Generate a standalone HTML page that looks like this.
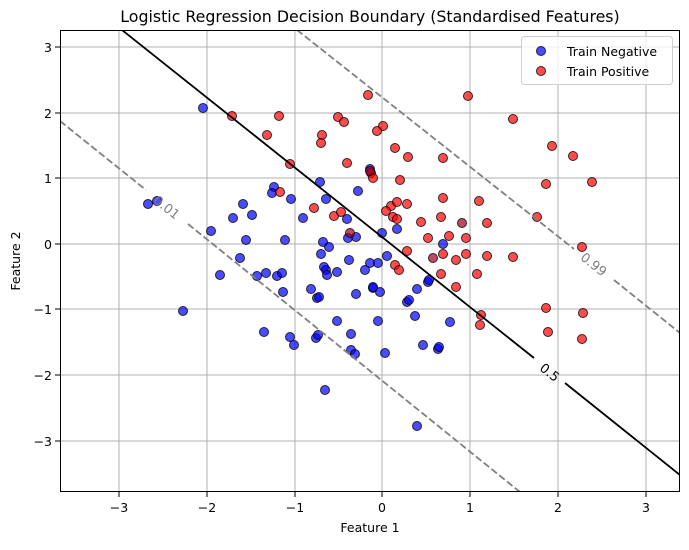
<!DOCTYPE html><html><head><style>body{margin:0;background:#fff}svg text{font-family:"DejaVu Sans","Liberation Sans",sans-serif}</style></head><body>
<svg width="689" height="545" xmlns="http://www.w3.org/2000/svg">
<defs><clipPath id="c"><rect x="60" y="30" width="620" height="462"/></clipPath></defs>
<text x="370" y="22" font-size="15.8" text-anchor="middle">Logistic Regression Decision Boundary (Standardised Features)</text>
<g stroke="#b0b0b0" stroke-width="1">
<line x1="119" y1="30" x2="119" y2="492"/><line x1="207" y1="30" x2="207" y2="492"/><line x1="295" y1="30" x2="295" y2="492"/><line x1="382" y1="30" x2="382" y2="492"/><line x1="470" y1="30" x2="470" y2="492"/><line x1="558" y1="30" x2="558" y2="492"/><line x1="646" y1="30" x2="646" y2="492"/>
<line x1="60" y1="47" x2="680" y2="47"/><line x1="60" y1="113" x2="680" y2="113"/><line x1="60" y1="178" x2="680" y2="178"/><line x1="60" y1="244" x2="680" y2="244"/><line x1="60" y1="309" x2="680" y2="309"/><line x1="60" y1="375" x2="680" y2="375"/><line x1="60" y1="441" x2="680" y2="441"/>
</g>
<g clip-path="url(#c)">
<g stroke="#000" stroke-opacity="0.8" stroke-width="1" fill="#0000ff" fill-opacity="0.7">
<circle cx="203" cy="108" r="4.5"/><circle cx="148" cy="204" r="4.5"/><circle cx="157" cy="201" r="4.5"/><circle cx="243" cy="204" r="4.5"/><circle cx="233" cy="218" r="4.5"/><circle cx="252" cy="215" r="4.5"/><circle cx="211" cy="231" r="4.5"/><circle cx="246" cy="240" r="4.5"/><circle cx="240" cy="258" r="4.5"/><circle cx="220" cy="275" r="4.5"/><circle cx="257" cy="276" r="4.5"/><circle cx="266" cy="273" r="4.5"/><circle cx="277" cy="276" r="4.5"/><circle cx="282" cy="273" r="4.5"/><circle cx="285" cy="240" r="4.5"/><circle cx="291" cy="199" r="4.5"/><circle cx="274" cy="187" r="4.5"/><circle cx="272" cy="193" r="4.5"/><circle cx="303" cy="218" r="4.5"/><circle cx="320" cy="182" r="4.5"/><circle cx="326" cy="199" r="4.5"/><circle cx="358" cy="191" r="4.5"/><circle cx="370" cy="169" r="4.5"/><circle cx="347" cy="219" r="4.5"/><circle cx="348" cy="238" r="4.5"/><circle cx="356" cy="237" r="4.5"/><circle cx="323" cy="242" r="4.5"/><circle cx="329" cy="247" r="4.5"/><circle cx="321" cy="254" r="4.5"/><circle cx="349" cy="260" r="4.5"/><circle cx="324" cy="267" r="4.5"/><circle cx="326" cy="270" r="4.5"/><circle cx="327" cy="275" r="4.5"/><circle cx="337" cy="272" r="4.5"/><circle cx="365" cy="270" r="4.5"/><circle cx="370" cy="263" r="4.5"/><circle cx="378" cy="263" r="4.5"/><circle cx="387" cy="256" r="4.5"/><circle cx="382" cy="233" r="4.5"/><circle cx="397" cy="229" r="4.5"/>
<circle cx="183" cy="311" r="4.5"/><circle cx="264" cy="332" r="4.5"/><circle cx="290" cy="337" r="4.5"/><circle cx="294" cy="345" r="4.5"/><circle cx="316" cy="338" r="4.5"/><circle cx="318" cy="335" r="4.5"/><circle cx="325" cy="390" r="4.5"/><circle cx="417" cy="426" r="4.5"/><circle cx="283" cy="292" r="4.5"/><circle cx="311" cy="289" r="4.5"/><circle cx="317" cy="298" r="4.5"/><circle cx="319" cy="297" r="4.5"/><circle cx="337" cy="321" r="4.5"/><circle cx="351" cy="334" r="4.5"/><circle cx="351" cy="350" r="4.5"/><circle cx="355" cy="354" r="4.5"/><circle cx="356" cy="294" r="4.5"/><circle cx="373" cy="288" r="4.5"/><circle cx="380" cy="292" r="4.5"/><circle cx="378" cy="321" r="4.5"/><circle cx="385" cy="353" r="4.5"/><circle cx="407" cy="302" r="4.5"/><circle cx="409" cy="300" r="4.5"/><circle cx="415" cy="316" r="4.5"/><circle cx="417" cy="289" r="4.5"/><circle cx="428" cy="282" r="4.5"/><circle cx="423" cy="345" r="4.5"/><circle cx="438" cy="349" r="4.5"/><circle cx="439" cy="347" r="4.5"/><circle cx="450" cy="322" r="4.5"/><circle cx="443" cy="244" r="4.5"/><circle cx="429" cy="280" r="4.5"/><circle cx="373" cy="287" r="4.5"/>
</g>
<g stroke="#000" stroke-opacity="0.8" stroke-width="1" fill="#ff0000" fill-opacity="0.7">
<circle cx="232" cy="116" r="4.5"/><circle cx="279" cy="116" r="4.5"/><circle cx="267" cy="135" r="4.5"/><circle cx="290" cy="164" r="4.5"/><circle cx="280" cy="192" r="4.5"/><circle cx="368" cy="95" r="4.5"/><circle cx="468" cy="96" r="4.5"/><circle cx="338" cy="117" r="4.5"/><circle cx="344" cy="122" r="4.5"/><circle cx="383" cy="126" r="4.5"/><circle cx="377" cy="131" r="4.5"/><circle cx="322" cy="135" r="4.5"/><circle cx="321" cy="143" r="4.5"/><circle cx="513" cy="119" r="4.5"/><circle cx="395" cy="148" r="4.5"/><circle cx="408" cy="157" r="4.5"/><circle cx="443" cy="158" r="4.5"/><circle cx="552" cy="146" r="4.5"/><circle cx="573" cy="156" r="4.5"/><circle cx="347" cy="163" r="4.5"/><circle cx="371" cy="173" r="4.5"/><circle cx="373" cy="178" r="4.5"/><circle cx="400" cy="180" r="4.5"/><circle cx="546" cy="184" r="4.5"/><circle cx="592" cy="182" r="4.5"/><circle cx="443" cy="198" r="4.5"/><circle cx="479" cy="201" r="4.5"/><circle cx="314" cy="208" r="4.5"/><circle cx="334" cy="216" r="4.5"/><circle cx="341" cy="212" r="4.5"/><circle cx="391" cy="206" r="4.5"/><circle cx="397" cy="202" r="4.5"/><circle cx="407" cy="204" r="4.5"/><circle cx="386" cy="211" r="4.5"/><circle cx="393" cy="217" r="4.5"/><circle cx="397" cy="219" r="4.5"/><circle cx="441" cy="217" r="4.5"/><circle cx="421" cy="222" r="4.5"/><circle cx="462" cy="223" r="4.5" fill="#a00020"/><circle cx="487" cy="223" r="4.5"/><circle cx="537" cy="217" r="4.5"/><circle cx="350" cy="233" r="4.5" fill="#a00020"/><circle cx="428" cy="238" r="4.5"/><circle cx="449" cy="236" r="4.5"/><circle cx="466" cy="238" r="4.5"/><circle cx="407" cy="251" r="4.5"/><circle cx="443" cy="254" r="4.5"/><circle cx="456" cy="260" r="4.5"/><circle cx="466" cy="254" r="4.5"/><circle cx="487" cy="256" r="4.5"/><circle cx="513" cy="257" r="4.5"/><circle cx="433" cy="258" r="4.5" fill="#a00020"/><circle cx="395" cy="265" r="4.5"/><circle cx="399" cy="270" r="4.5"/><circle cx="441" cy="274" r="4.5"/><circle cx="477" cy="274" r="4.5"/><circle cx="582" cy="247" r="4.5"/><circle cx="456" cy="287" r="4.5"/><circle cx="546" cy="308" r="4.5"/><circle cx="548" cy="332" r="4.5"/><circle cx="583" cy="313" r="4.5"/><circle cx="582" cy="339" r="4.5"/><circle cx="481" cy="315" r="4.5"/><circle cx="480" cy="325" r="4.5"/><circle cx="370" cy="171" r="4.5" fill="#a00020"/>
</g>
<line x1="122" y1="30" x2="534" y2="358" stroke="#000" stroke-width="1.8"/>
<line x1="565" y1="383" x2="680" y2="475" stroke="#000" stroke-width="1.8"/>
<line x1="60" y1="121" x2="146" y2="190" stroke="#808080" stroke-width="1.8" stroke-dasharray="7,3"/>
<line x1="188" y1="224" x2="520" y2="492" stroke="#808080" stroke-width="1.8" stroke-dasharray="7,3"/>
<line x1="297" y1="30" x2="574" y2="249" stroke="#808080" stroke-width="1.8" stroke-dasharray="7,3"/>
<line x1="614" y1="280" x2="680" y2="333" stroke="#808080" stroke-width="1.8" stroke-dasharray="7,3"/>
</g>
<text x="167" y="212" font-size="13" fill="#808080" text-anchor="middle" transform="rotate(38.5 167 207)">0.01</text>
<text x="550" y="377" font-size="13" fill="#000" text-anchor="middle" transform="rotate(38.5 550 372)">0.5</text>
<text x="594" y="269" font-size="13" fill="#808080" text-anchor="middle" transform="rotate(38.5 594 264)">0.99</text>
<rect x="60.5" y="30.5" width="619" height="461" fill="none" stroke="#000" stroke-width="1"/>
<g stroke="#000" stroke-width="1">
<line x1="119" y1="492" x2="119" y2="497"/><line x1="207" y1="492" x2="207" y2="497"/><line x1="295" y1="492" x2="295" y2="497"/><line x1="382" y1="492" x2="382" y2="497"/><line x1="470" y1="492" x2="470" y2="497"/><line x1="558" y1="492" x2="558" y2="497"/><line x1="646" y1="492" x2="646" y2="497"/>
<line x1="55" y1="47" x2="60" y2="47"/><line x1="55" y1="113" x2="60" y2="113"/><line x1="55" y1="178" x2="60" y2="178"/><line x1="55" y1="244" x2="60" y2="244"/><line x1="55" y1="309" x2="60" y2="309"/><line x1="55" y1="375" x2="60" y2="375"/><line x1="55" y1="441" x2="60" y2="441"/>
</g>
<g font-size="12.5" text-anchor="middle">
<text x="119" y="512">−3</text><text x="207" y="512">−2</text><text x="295" y="512">−1</text><text x="382" y="512">0</text><text x="470" y="512">1</text><text x="558" y="512">2</text><text x="646" y="512">3</text>
</g>
<g font-size="12.5" text-anchor="end">
<text x="52" y="52">3</text><text x="52" y="118">2</text><text x="52" y="183">1</text><text x="52" y="249">0</text><text x="52" y="314">−1</text><text x="52" y="380">−2</text><text x="52" y="446">−3</text>
</g>
<text x="370" y="532" font-size="12.5" text-anchor="middle">Feature 1</text>
<text x="20" y="261" font-size="12.5" text-anchor="middle" transform="rotate(-90 20 261)">Feature 2</text>
<rect x="521.5" y="36.5" width="151" height="48" rx="3" fill="#fff" fill-opacity="0.8" stroke="#d0d0d0"/>
<circle cx="541" cy="51" r="4.5" fill="#0000ff" fill-opacity="0.7" stroke="#000" stroke-opacity="0.8"/>
<circle cx="541" cy="71" r="4.5" fill="#ff0000" fill-opacity="0.7" stroke="#000" stroke-opacity="0.8"/>
<text x="567" y="56" font-size="12.5">Train Negative</text>
<text x="567" y="76" font-size="12.5">Train Positive</text>
</svg></body></html>
